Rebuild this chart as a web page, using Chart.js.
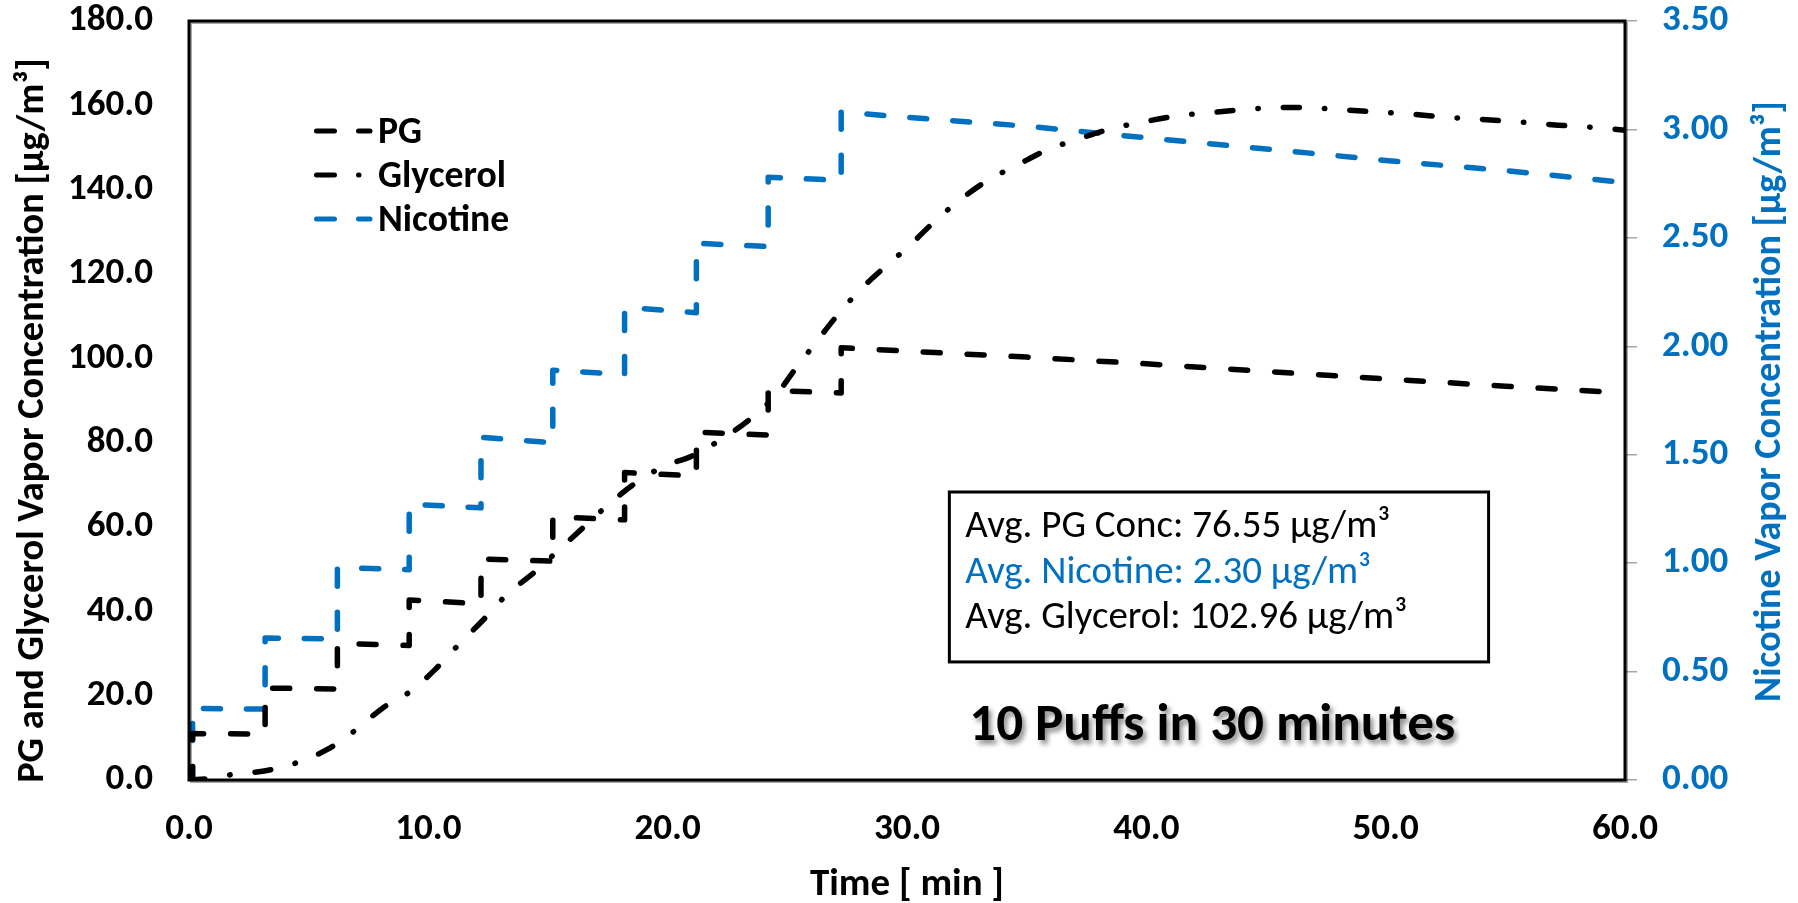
<!DOCTYPE html>
<html>
<head>
<meta charset="utf-8">
<script src="https://cdn.jsdelivr.net/npm/chart.js@4.4.1/dist/chart.umd.min.js"></script>
<style>
  html, body { margin: 0; padding: 0; background: #ffffff; }
  #c { display: block; }
</style>
</head>
<body>
<canvas id="c" width="1798" height="903"></canvas>
<script>
// ---------------- DATA ----------------
const puffTimes    = [0.15, 3.18, 6.2, 9.2, 12.2, 15.2, 18.2, 21.2, 24.2, 27.25];
const pgStepStart  = [11.0, 21.8, 32.4, 42.7, 52.4, 62.4, 72.9, 82.5, 92.4];
const pgStepEnd    = [10.9, 21.6, 31.9, 41.8, 51.9, 61.7, 72.1, 81.8, 91.8];
const nicStepStart = [0.33, 0.655, 0.98, 1.272, 1.58, 1.89, 2.18, 2.475, 2.78];
const nicStepEnd   = [0.327, 0.65, 0.97, 1.255, 1.555, 1.87, 2.155, 2.46, 2.765];
const decayTimes   = [27.25, 30, 35, 40, 45, 50, 55, 60];
const pgDecay      = [102.5, 101.7, 100.3, 98.7, 96.9, 95.1, 93.4, 91.8];
const nicDecay     = [3.08, 3.056, 3.015, 2.961, 2.91, 2.857, 2.81, 2.755];
const glyTimes  = [0, 0.9, 1.8, 3.2, 4.5, 5.8, 7.0, 8.1, 9.3, 10.3, 11.3, 12.3, 13.25, 14.5, 15.4, 16.4, 17.5, 18.5, 19.8, 21.0, 22.3, 23.4, 24.5, 25.3, 26.2, 27.1, 28.0, 29.0, 30.1, 31.1, 32.2, 33.4, 34.6, 35.8, 37.15, 38.5, 39.9, 41.3, 42.7, 44.1, 45.5, 46.9, 48.3, 49.7, 51.1, 52.5, 53.9, 55.7, 57.2, 58.6, 60];
const glyValues = [0, 0.4, 1.3, 2.2, 4.1, 7.3, 12.0, 17.1, 21.2, 26.3, 32.3, 38.0, 43.8, 49.6, 54.3, 59.5, 65.2, 69.8, 74.3, 76.8, 81.0, 85.4, 91.1, 97.2, 103.8, 110.3, 116.0, 121.3, 126.7, 132.2, 137.5, 142.3, 145.8, 149.3, 152.0, 154.4, 156.1, 157.5, 158.3, 159.0, 159.5, 159.4, 158.9, 158.4, 157.9, 157.2, 156.7, 156.0, 155.3, 154.8, 154.1];

const seriesNames = ['PG', 'Glycerol', 'Nicotine'];
const boxLines = ['Avg. PG Conc: 76.55 \u00B5g/m\u00B3', 'Avg. Nicotine: 2.30 \u00B5g/m\u00B3', 'Avg. Glycerol: 102.96 \u00B5g/m\u00B3'];
const noteText = '10 Puffs in 30 minutes';
const xTitle = 'Time [ min ]';
const yTitle = 'PG and Glycerol Vapor Concentration [\u00B5g/m\u00B3]';
const y2Title = 'Nicotine Vapor Concentration [\u00B5g/m\u00B3]';

// ---------------- BUILD POINTS ----------------
function stepPoints(starts, ends, decay) {
  const pts = [{x: 0, y: 0}, {x: puffTimes[0], y: 0}];
  for (let i = 0; i < starts.length; i++) {
    pts.push({x: puffTimes[i], y: starts[i]});
    pts.push({x: puffTimes[i + 1], y: ends[i]});
  }
  for (let j = 0; j < decayTimes.length; j++) pts.push({x: decayTimes[j], y: decay[j]});
  return pts;
}
const pgPts = stepPoints(pgStepStart, pgStepEnd, pgDecay);
const nicPts = stepPoints(nicStepStart, nicStepEnd, nicDecay);
const glyPts = glyTimes.map((t, i) => ({x: t, y: glyValues[i]}));

// ---------------- FONTS ----------------
const FAM = 'Carlito, Lato, "Open Sans", sans-serif';
const mctx = document.createElement('canvas').getContext('2d');
function fit(text, width, weight) {
  mctx.font = weight + ' 100px ' + FAM;
  return 100 * width / mctx.measureText(text).width;
}
const BOXW = 'normal';
const tickSize = fit('180.0', 85, 'bold');
const xTitleSize = fit(xTitle, 194, 'bold');
const yTitleSize = fit(yTitle, 725, 'bold');
const y2TitleSize = fit(y2Title, 601, 'bold');
const legendSize = fit('Glycerol', 128, 'bold');
const boxSize = fit(boxLines[0], 425, BOXW);
const noteSize = fit(noteText, 486, 'bold');

const BLUE = '#0070C0';

// ---------------- DECORATION PLUGIN ----------------
const deco = {
  id: 'deco',
  afterDatasetsDraw(chart) {
    const ctx = chart.ctx;
    const ca = chart.chartArea;
    const xs = chart.scales.x, ys = chart.scales.y;
    ctx.save();
    // plot frame with a light shadow
    ctx.strokeStyle = 'rgba(0,0,0,0.35)';
    ctx.lineWidth = 2;
    ctx.strokeRect(ca.left + 2, ca.top + 2, ca.right - ca.left, ca.bottom - ca.top);
    ctx.strokeStyle = '#000';
    ctx.lineWidth = 3;
    ctx.strokeRect(ca.left, ca.top, ca.right - ca.left, ca.bottom - ca.top);

    // legend inside plot
    const styles = [
      {color: '#000', dash: [18, 24]},
      {color: '#000', dash: [18, 24, 0.5, 30]},
      {color: BLUE, dash: [18, 24]}
    ];
    ctx.font = 'bold ' + legendSize + 'px ' + FAM;
    ctx.textAlign = 'left';
    ctx.textBaseline = 'alphabetic';
    for (let i = 0; i < seriesNames.length; i++) {
      const base = ca.top + 122 + i * 44;
      ctx.beginPath();
      ctx.setLineDash(styles[i].dash);
      ctx.lineCap = 'round';
      ctx.lineWidth = 5;
      ctx.strokeStyle = styles[i].color;
      ctx.moveTo(ca.left + 127.5, base - 12);
      ctx.lineTo(ca.left + 181, base - 12);
      ctx.stroke();
      ctx.setLineDash([]);
      ctx.fillStyle = '#000';
      ctx.fillText(seriesNames[i], ca.left + 189, base);
    }

    // annotation box
    const bx0 = xs.getPixelForValue(31.77), bx1 = xs.getPixelForValue(54.3);
    const by0 = ys.getPixelForValue(68.3), by1 = ys.getPixelForValue(28.0);
    ctx.fillStyle = '#fff';
    ctx.fillRect(bx0, by0, bx1 - bx0, by1 - by0);
    ctx.lineWidth = 3;
    ctx.strokeStyle = '#000';
    ctx.strokeRect(bx0, by0, bx1 - bx0, by1 - by0);
    ctx.font = BOXW + ' ' + boxSize + 'px ' + FAM;
    const colors = ['#000', BLUE, '#000'];
    for (let i = 0; i < boxLines.length; i++) {
      ctx.fillStyle = colors[i];
      ctx.fillText(boxLines[i], bx0 + 16, by0 + 45 + i * 45.7);
    }

    // note text with shadow
    ctx.font = 'bold ' + noteSize + 'px ' + FAM;
    ctx.textAlign = 'center';
    ctx.shadowColor = 'rgba(0,0,0,0.45)';
    ctx.shadowBlur = 5;
    ctx.shadowOffsetX = 3;
    ctx.shadowOffsetY = 4;
    ctx.fillStyle = '#000';
    ctx.fillText(noteText, xs.getPixelForValue(42.75), ys.getPixelForValue(9.5));
    ctx.restore();

    // axis titles
    ctx.save();
    ctx.fillStyle = '#000';
    ctx.font = 'bold ' + xTitleSize + 'px ' + FAM;
    ctx.textAlign = 'center';
    ctx.textBaseline = 'alphabetic';
    ctx.fillText(xTitle, (ca.left + ca.right) / 2, ca.bottom + 115);
    ctx.restore();

    ctx.save();
    ctx.fillStyle = '#000';
    ctx.font = 'bold ' + yTitleSize + 'px ' + FAM;
    ctx.textAlign = 'center';
    ctx.textBaseline = 'alphabetic';
    ctx.translate(ca.left - 146, (ca.top + ca.bottom) / 2 + 20);
    ctx.rotate(-Math.PI / 2);
    ctx.fillText(yTitle, 0, 0);
    ctx.restore();

    ctx.save();
    ctx.fillStyle = BLUE;
    ctx.font = 'bold ' + y2TitleSize + 'px ' + FAM;
    ctx.textAlign = 'center';
    ctx.textBaseline = 'alphabetic';
    ctx.translate(ca.right + 155, (ca.top + ca.bottom) / 2 + 1);
    ctx.rotate(-Math.PI / 2);
    ctx.fillText(y2Title, 0, 0);
    ctx.restore();
  }
};

// ---------------- CHART ----------------
const tickFont = {family: FAM, size: tickSize, weight: 'bold'};
function noPad(s) { s.paddingTop = 0; s.paddingBottom = 0; s.paddingLeft = 0; s.paddingRight = 0; }
new Chart(document.getElementById('c'), {
  type: 'scatter',
  data: {
    datasets: [
      {label: seriesNames[0], data: pgPts, yAxisID: 'y', showLine: true, borderColor: '#000', backgroundColor: '#000',
       borderWidth: 5.5, borderDash: [17, 27], borderCapStyle: 'round', borderJoinStyle: 'round', pointRadius: 0, tension: 0, fill: false},
      {label: seriesNames[1], data: glyPts, yAxisID: 'y', showLine: true, borderColor: '#000', backgroundColor: '#000',
       borderWidth: 5.5, borderDash: [16, 25, 0.5, 25], borderCapStyle: 'round', borderJoinStyle: 'round', pointRadius: 0,
       cubicInterpolationMode: 'monotone', fill: false},
      {label: seriesNames[2], data: nicPts, yAxisID: 'y2', showLine: true, borderColor: BLUE, backgroundColor: BLUE,
       borderWidth: 5.5, borderDash: [17, 26], borderCapStyle: 'round', borderJoinStyle: 'round', pointRadius: 0, tension: 0, fill: false}
    ]
  },
  options: {
    responsive: false,
    animation: false,
    devicePixelRatio: 1,
    layout: {padding: {top: 21, left: 0, right: 0, bottom: 0}},
    plugins: {legend: {display: false}, tooltip: {enabled: false}, title: {display: false}},
    scales: {
      x: {
        type: 'linear', position: 'bottom', min: 0, max: 60,
        ticks: {stepSize: 10, callback: v => v.toFixed(1), font: tickFont, color: '#000', padding: 28, maxRotation: 0, autoSkip: false},
        grid: {display: false, drawTicks: false, tickLength: 0},
        border: {display: false},
        afterFit: s => { s.height = 123; noPad(s); }
      },
      y: {
        position: 'left', min: 0, max: 180,
        ticks: {stepSize: 20, callback: v => v.toFixed(1), font: tickFont, color: '#000', padding: 36},
        grid: {display: false, drawTicks: false, tickLength: 0},
        border: {display: false},
        afterFit: s => { s.width = 189; noPad(s); }
      },
      y2: {
        position: 'right', min: 0, max: 3.5,
        ticks: {stepSize: 0.5, callback: v => v.toFixed(2), font: tickFont, color: BLUE, padding: 25},
        grid: {display: true, drawOnChartArea: false, drawTicks: true, tickLength: 12, color: '#a6a6a6', lineWidth: 1.5},
        border: {display: false},
        afterFit: s => { s.width = 173; noPad(s); }
      }
    }
  },
  plugins: [deco]
});
</script>
</body>
</html>
